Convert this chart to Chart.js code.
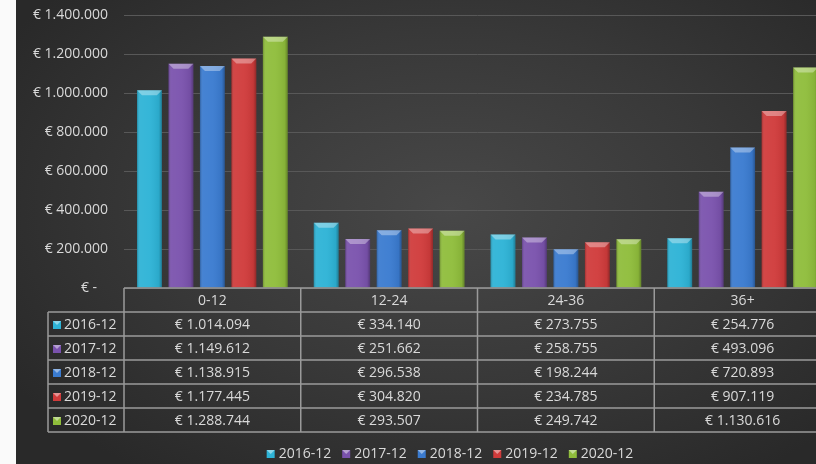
<!DOCTYPE html>
<html>
<head>
<meta charset="utf-8">
<script src="https://cdn.jsdelivr.net/npm/chart.js@4"></script>
<style>
  html, body { margin: 0; padding: 0; width: 816px; height: 464px; overflow: hidden; background: #fafafa; }
  #wrap {
    position: absolute; left: 16px; top: 0; width: 868px; height: 464px;
    background: radial-gradient(ellipse 60% 70% at 50% 45%, #484848 0%, #383838 55%, #292929 100%);
  }
</style>
</head>
<body>
<div id="wrap"><canvas id="chart" width="868" height="464"></canvas></div>
<script>
// Chart data
const categories = ["0-12", "12-24", "24-36", "36+"];
const seriesLabels = ["2016-12", "2017-12", "2018-12", "2019-12", "2020-12"];
const values2016 = [1014094, 334140, 273755, 254776];
const values2017 = [1149612, 251662, 258755, 493096];
const values2018 = [1138915, 296538, 198244, 720893];
const values2019 = [1177445, 304820, 234785, 907119];
const values2020 = [1288744, 293507, 249742, 1130616];
const seriesColors = ["#2db3d6", "#7a52ad", "#3a7bd0", "#d03b3b", "#8fbd3b"];
const yMax = 1400000;
const yStep = 200000;

const allValues = [values2016, values2017, values2018, values2019, values2020];
const FONT = "'Open Sans', 'Liberation Sans', sans-serif";
const TEXT = "#d9d9d9";
const LINE = "#9a9a9a";

const euro = (v) =>
  v === 0 ? "€ -   " : "€ " + String(v).replace(/\B(?=(\d{3})+(?!\d))/g, ".");

// small bevelled square used in the table and legend
const drawKey = (ctx, x, y, size, color) => {
  ctx.fillStyle = color;
  ctx.fillRect(x, y, size, size);
  ctx.fillStyle = "rgba(255,255,255,0.45)";
  ctx.beginPath();
  ctx.moveTo(x, y);
  ctx.lineTo(x + size, y);
  ctx.lineTo(x + size / 2, y + size / 2);
  ctx.closePath();
  ctx.fill();
};

// Shading and top bevel on every bar
const bevelPlugin = {
  id: "bevel",
  afterDatasetsDraw(chart) {
    const ctx = chart.ctx;
    chart.data.datasets.forEach((ds, di) => {
      chart.getDatasetMeta(di).data.forEach((bar) => {
        const { x, y, base, width } = bar.getProps(["x", "y", "base", "width"], true);
        const left = x - width / 2;
        const right = x + width / 2;
        const g = ctx.createLinearGradient(left, 0, right, 0);
        g.addColorStop(0, "rgba(0,0,0,0.22)");
        g.addColorStop(0.12, "rgba(255,255,255,0.06)");
        g.addColorStop(0.5, "rgba(255,255,255,0.04)");
        g.addColorStop(0.88, "rgba(0,0,0,0.06)");
        g.addColorStop(1, "rgba(0,0,0,0.3)");
        ctx.fillStyle = g;
        ctx.fillRect(left, y, width, base - y);
        ctx.fillStyle = "rgba(255,255,255,0.35)";
        ctx.beginPath();
        ctx.moveTo(left, y);
        ctx.lineTo(right, y);
        ctx.lineTo(right - 5, y + 5);
        ctx.lineTo(left + 5, y + 5);
        ctx.closePath();
        ctx.fill();
      });
    });
  },
};

// Data table under the plot and the legend
const tablePlugin = {
  id: "dataTable",
  afterDraw(chart) {
    const { ctx, chartArea } = chart;
    const x = chart.scales.x;
    const rowH = 24;
    const top = chartArea.bottom;
    const colW = (x.right - x.left) / categories.length;
    const labelLeft = 32;
    const bottom = top + rowH * (seriesLabels.length + 1);

    ctx.save();
    ctx.strokeStyle = LINE;
    ctx.lineWidth = 1.5;
    ctx.beginPath();
    ctx.moveTo(x.left, top);
    ctx.lineTo(x.right, top);
    for (let r = 1; r <= seriesLabels.length + 1; r++) {
      ctx.moveTo(labelLeft, top + rowH * r);
      ctx.lineTo(x.right, top + rowH * r);
    }
    ctx.moveTo(labelLeft, top + rowH);
    ctx.lineTo(labelLeft, bottom);
    for (let c = 0; c <= categories.length; c++) {
      const cx = x.left + colW * c;
      ctx.moveTo(cx, top);
      ctx.lineTo(cx, bottom);
    }
    ctx.stroke();

    ctx.font = "14px " + FONT;
    ctx.fillStyle = TEXT;
    ctx.textAlign = "center";
    ctx.textBaseline = "middle";
    categories.forEach((cat, c) => {
      ctx.fillText(cat, x.getPixelForValue(c), top + rowH / 2 + 1);
    });

    seriesLabels.forEach((label, r) => {
      const cy = top + rowH * (r + 1) + rowH / 2 + 1;
      drawKey(ctx, labelLeft + 5, cy - 4, 8, seriesColors[r]);
      ctx.fillStyle = TEXT;
      ctx.textAlign = "left";
      ctx.fillText(label, labelLeft + 16, cy);
      ctx.textAlign = "center";
      allValues[r].forEach((v, c) => {
        ctx.fillText(euro(v), x.getPixelForValue(c), cy);
      });
    });

    // legend
    const gap = 11;
    const widths = seriesLabels.map((l) => 12 + ctx.measureText(l).width);
    const total = widths.reduce((a, b) => a + b, 0) + gap * (widths.length - 1);
    let lx = 434 - total / 2;
    const ly = 454;
    ctx.textAlign = "left";
    seriesLabels.forEach((label, i) => {
      drawKey(ctx, lx, ly - 4, 8, seriesColors[i]);
      ctx.fillStyle = TEXT;
      ctx.fillText(label, lx + 12, ly);
      lx += widths[i] + gap;
    });
    ctx.restore();
  },
};

const ctx = document.getElementById("chart").getContext("2d");

new Chart(ctx, {
  type: "bar",
  data: {
    labels: categories,
    datasets: seriesLabels.map((label, i) => ({
      label: label,
      data: allValues[i],
      backgroundColor: seriesColors[i],
      borderWidth: 0,
      categoryPercentage: 0.89,
      barPercentage: 0.79,
    })),
  },
  options: {
    responsive: false,
    animation: false,
    layout: { padding: { top: 15, right: 53, bottom: 0, left: 0 } },
    plugins: {
      legend: { display: false },
      tooltip: { enabled: false },
    },
    scales: {
      x: {
        grid: { display: false },
        border: { display: false },
        ticks: { display: false },
        afterFit: (scale) => {
          scale.height = 176;
        },
      },
      y: {
        min: 0,
        max: yMax,
        grid: { color: "#585858", lineWidth: 1, drawTicks: false },
        border: { display: false },
        ticks: {
          stepSize: yStep,
          padding: 16,
          color: TEXT,
          font: { family: FONT, size: 14 },
          callback: (v) => euro(v),
        },
        afterFit: (scale) => {
          scale.width = 108;
          scale.paddingTop = 0;
          scale.paddingBottom = 0;
        },
      },
    },
  },
  plugins: [bevelPlugin, tablePlugin],
});
</script>
</body>
</html>
